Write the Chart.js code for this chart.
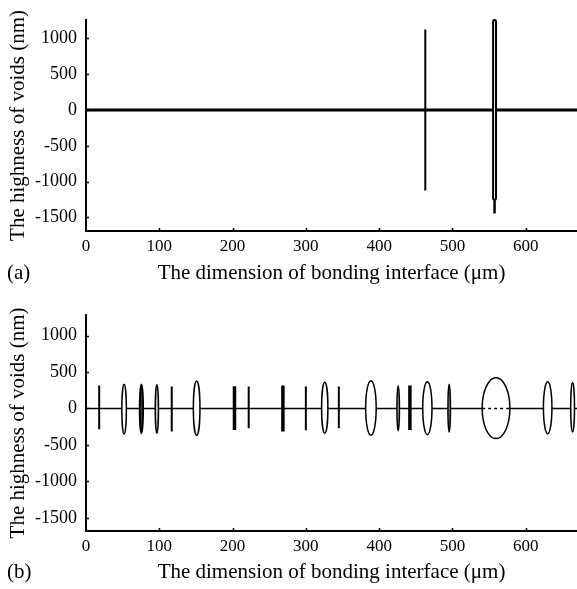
<!DOCTYPE html>
<html><head><meta charset="utf-8">
<script src="https://cdn.jsdelivr.net/npm/chart.js@4.4.1/dist/chart.umd.min.js"></script>
<style>
body{margin:0;background:#fff;width:577px;height:589px;overflow:hidden;position:relative;font-family:'Liberation Serif','Times New Roman',serif;}
.panel{position:absolute;left:0;}
.tag{position:absolute;left:7px;font-size:21px;line-height:21px;color:#000;font-family:'Liberation Serif',serif;}
</style></head><body>
<div class="panel" style="top:0"><canvas id="ca" width="577" height="295"></canvas></div>
<div class="panel" style="top:295px"><canvas id="cb" width="577" height="294"></canvas></div>
<div class="tag" style="top:262px">(a)</div>
<div class="tag" style="top:561px">(b)</div>
<script>
// ---------- texts & ticks ----------
const xTitle = 'The dimension of bonding interface (μm)';
const yTitle = 'The highness of voids (nm)';
const xTicks = [0, 100, 200, 300, 400, 500, 600];
const yTicks = [-1500, -1000, -500, 0, 500, 1000];

// ---------- panel (a) data ----------
const aBaseX = [0, 670];
const aLineX = [463];
const aLineTop = [1125];
const aLineBottom = [-1125];
const aEllX = [557.5];
const aEllHalfW = [2.0];
const aEllTop = [1258];
const aEllBottom = [-1255];
const aMarkX = [557.5, 557.5];
const aMarkTop = [1090, -820];
const aMarkBottom = [820, -1446];

// ---------- panel (b) data ----------
const bBaseX = [0, 670];
const bThinX = [18, 117, 222, 300, 345];
const bThinTop = [314, 300, 300, 300, 300];
const bThinBottom = [-286, -314, -272, -300, -272];
const bThickX = [202.6, 268.7, 442];
const bThickTop = [304, 314, 314];
const bThickBottom = [-296, -314, -296];
const bEllX = [52, 75.6, 96.7, 151, 325.8, 388.8, 426, 465.8, 495.6, 559.5, 630, 664];
const bEllHalfW = [3.1, 2.2, 2.2, 4.5, 4.3, 7.2, 1.7, 6.3, 1.7, 18.9, 5.8, 2.6];
const bEllTop = [332, 330, 325, 378, 360, 382, 310, 368, 332, 423, 368, 355];
const bEllBottom = [-350, -340, -340, -368, -340, -368, -305, -360, -323, -413, -345, -323];

// ---------- styles ----------
const SERIF = "'Liberation Serif', 'Times New Roman', serif";
const aEllStyle = [{fill: '#fff', width: 2, capsule: true}];
const bEllStyle = [
  {fill: '#fff', width: 1.5}, {fill: '#444', width: 2}, {fill: '#ccc', width: 1.5},
  {fill: '#fff', width: 1.5}, {fill: '#fff', width: 1.5}, {fill: '#fff', width: 1.5},
  {fill: '#bbb', width: 1.5}, {fill: '#fff', width: 1.5}, {fill: '#999', width: 1.5},
  {fill: '#fff', width: 1.5, dashCore: true}, {fill: '#fff', width: 1.5}, {fill: '#fff', width: 1.5}
];

function segs(xs, tops, bottoms) {
  const pts = [];
  xs.forEach((x, i) => { pts.push({x: x, y: bottoms[i]}, {x: x, y: tops[i]}, {x: x, y: null}); });
  return pts;
}
function base(xs) { return xs.map(x => ({x: x, y: 0})); }

const ellipsePlugin = {
  id: 'voidEllipses',
  afterDatasetDraw(chart, args, opts) {
    if (args.index !== 0) return;
    const {ctx, scales: {x, y}} = chart;
    const e = opts.ellipses;
    ctx.save();
    e.xs.forEach((cx, i) => {
      const st = e.styles[i];
      const px = x.getPixelForValue(cx);
      const rx = Math.max(Math.abs(x.getPixelForValue(cx + e.hw[i]) - px), 0.5);
      const pTop = y.getPixelForValue(e.top[i]);
      const pBot = y.getPixelForValue(e.bottom[i]);
      const cy = (pTop + pBot) / 2, ry = (pBot - pTop) / 2;
      ctx.beginPath();
      if (st.capsule) {
        ctx.roundRect(px - rx, pTop, rx * 2, pBot - pTop, rx);
      } else {
        ctx.ellipse(px, cy, rx, ry, 0, 0, Math.PI * 2);
      }
      ctx.fillStyle = st.fill;
      ctx.fill();
      ctx.lineWidth = st.width;
      ctx.strokeStyle = '#000';
      ctx.stroke();
      if (st.dashCore) {
        const y0 = y.getPixelForValue(0);
        ctx.beginPath();
        ctx.setLineDash([3, 3]);
        ctx.lineWidth = 1.5;
        ctx.moveTo(px - rx, y0);
        ctx.lineTo(px + rx, y0);
        ctx.stroke();
        ctx.setLineDash([]);
      }
    });
    ctx.restore();
  }
};

const tickPlugin = {
  id: 'innerTicks',
  afterDraw(chart) {
    const {ctx, chartArea: a, scales: {x, y}} = chart;
    ctx.save();
    ctx.strokeStyle = '#000';
    ctx.lineWidth = 1.5;
    x.ticks.forEach(t => {
      if (t.value === 0) return;
      const p = Math.round(x.getPixelForValue(t.value)) + 0.5;
      ctx.beginPath(); ctx.moveTo(p, a.bottom); ctx.lineTo(p, a.bottom - 3); ctx.stroke();
    });
    y.ticks.forEach(t => {
      const p = Math.round(y.getPixelForValue(t.value)) + 0.5;
      ctx.beginPath(); ctx.moveTo(a.left, p); ctx.lineTo(a.left + 3, p); ctx.stroke();
    });
    ctx.restore();
  }
};

function makeChart(id, datasets, ellipses, opt) {
  return new Chart(document.getElementById(id), {
    type: 'line',
    data: {datasets: datasets},
    plugins: [ellipsePlugin, tickPlugin],
    options: {
      responsive: false,
      animation: false,
      devicePixelRatio: 1,
      layout: {padding: {top: opt.top, left: 0, right: 0, bottom: 0}},
      plugins: {legend: {display: false}, tooltip: {enabled: false}, voidEllipses: {ellipses: ellipses}},
      elements: {point: {radius: 0, hoverRadius: 0}, line: {tension: 0, borderCapStyle: 'butt'}},
      scales: {
        x: {
          type: 'linear', min: 0, max: 670,
          grid: {display: false, drawTicks: false},
          border: {display: true, color: '#000', width: 2},
          afterBuildTicks: s => { s.ticks = xTicks.map(v => ({value: v})); },
          ticks: {autoSkip: false, maxRotation: 0, color: '#000', padding: 5, font: {family: SERIF, size: 17},
                  callback: v => String(v)},
          title: {display: true, text: xTitle, color: '#000', font: {family: SERIF, size: 21}, padding: {top: 0, bottom: opt.xtPad}},
          afterFit: s => { s.height = opt.xh; }
        },
        y: {
          type: 'linear', min: opt.ymin, max: opt.ymax,
          grid: {display: false, drawTicks: false},
          border: {display: true, color: '#000', width: 2},
          afterBuildTicks: s => { s.ticks = yTicks.map(v => ({value: v})); },
          ticks: {autoSkip: false, color: '#000', padding: 9, font: {family: SERIF, size: 18},
                  callback: v => String(v)},
          title: {display: true, text: yTitle, color: '#000', font: {family: SERIF, size: 21}, padding: {top: 6, bottom: 0}},
          afterFit: s => { s.width = 86; }
        }
      }
    }
  });
}

makeChart('ca', [
  {data: base(aBaseX), borderColor: '#000', borderWidth: 3, spanGaps: false},
  {data: segs(aLineX, aLineTop, aLineBottom), borderColor: '#000', borderWidth: 2, spanGaps: false},
  {data: segs(aMarkX, aMarkTop, aMarkBottom), borderColor: '#000', borderWidth: 2.5, spanGaps: false}
], {xs: aEllX, hw: aEllHalfW, top: aEllTop, bottom: aEllBottom, styles: aEllStyle},
{top: 15, xh: 64, xtPad: 9, ymin: -1690, ymax: 1260});

makeChart('cb', [
  {data: base(bBaseX), borderColor: '#000', borderWidth: 1.5, spanGaps: false},
  {data: segs(bThinX, bThinTop, bThinBottom), borderColor: '#000', borderWidth: 2, spanGaps: false},
  {data: segs(bThickX, bThickTop, bThickBottom), borderColor: '#000', borderWidth: 3.5, spanGaps: false}
], {xs: bEllX, hw: bEllHalfW, top: bEllTop, bottom: bEllBottom, styles: bEllStyle},
{top: 18, xh: 58, xtPad: 4, ymin: -1680, ymax: 1285});
</script>
</body></html>
